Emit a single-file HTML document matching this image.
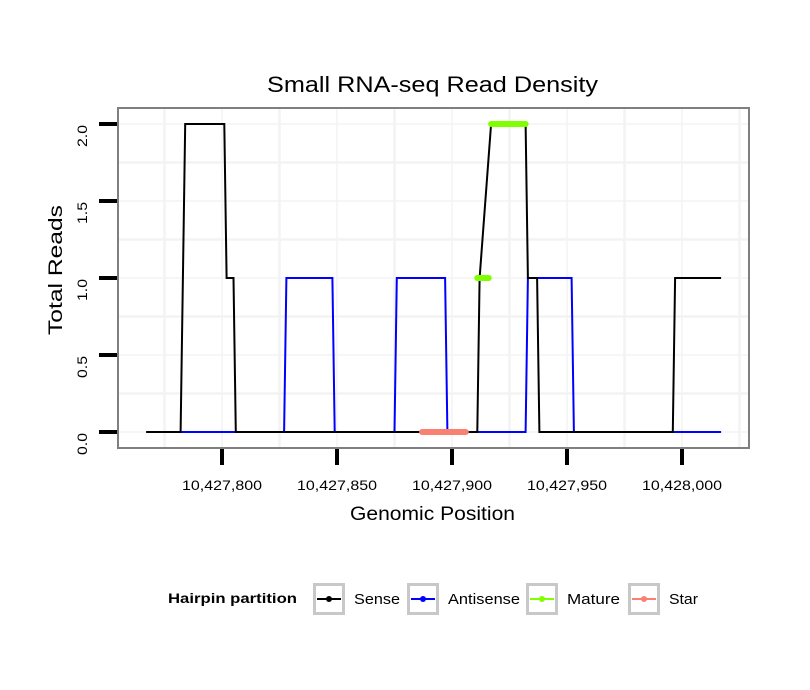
<!DOCTYPE html>
<html><head><meta charset="utf-8"><style>
body{margin:0;background:#fff;}
svg{display:block;font-family:"Liberation Sans",Arial,sans-serif;}
</style></head><body>
<svg id="chart" width="810" height="690" viewBox="0 0 810 690" xmlns="http://www.w3.org/2000/svg">
<rect width="810" height="690" fill="#fff"/>
<text x="267" y="92" font-size="22" textLength="331" lengthAdjust="spacingAndGlyphs" fill="#000">Small RNA-seq Read Density</text>
<rect x="118" y="108" width="631" height="340" fill="#fff"/>
<g id="grid"></g>
<g id="series"></g>
<rect x="118" y="108" width="631" height="340" fill="none" stroke="#7f7f7f" stroke-width="2"/>
<g id="axes"></g>
<text x="350" y="520" font-size="19" textLength="165" lengthAdjust="spacingAndGlyphs">Genomic Position</text>
<text transform="translate(62,335) rotate(-90)" font-size="19" textLength="130" lengthAdjust="spacingAndGlyphs">Total Reads</text>
<g>
<text x="168" y="603" font-size="14" font-weight="bold" textLength="129" lengthAdjust="spacingAndGlyphs">Hairpin partition</text>
<g id="legend"></g>
</g>
</svg>
<script>
const senseX=[10427767,10427782,10427784,10427801,10427802,10427805,10427806,10427911,10427912,10427917,10427932,10427933,10427937,10427938,10427996,10427997,10428017];
const senseY=[0,0,2,2,1,1,0,0,1,2,2,1,1,0,0,1,1];
const antiX=[10427782,10427827,10427828,10427848,10427849,10427875,10427876,10427897,10427898,10427932,10427933,10427952,10427953,10428017];
const antiY=[0,0,1,1,0,0,1,1,0,0,1,1,0,0];
const matureX=[[10427911,10427916],[10427917,10427932]];
const matureY=[1,2];
const starX=[[10427887,10427906]];
const starY=[0];
const xTicks=[10427800,10427850,10427900,10427950,10428000];
const xTickLabels=["10,427,800","10,427,850","10,427,900","10,427,950","10,428,000"];
const yTicks=[0,0.5,1,1.5,2];
const yTickLabels=["0.0","0.5","1.0","1.5","2.0"];
const legendLabels=["Sense","Antisense","Mature","Star"];
const legendColors=["#000000","#0000ff","#7fff00","#fa8072"];
const legendWidths=[46,72,53,29];

const NS="http://www.w3.org/2000/svg";
function sx(v){return 222+(v-10427800)*2.3;}
function sy(v){return 432-154*v;}
function mk(tag,attrs,parent){const e=document.createElementNS(NS,tag);for(const k in attrs)e.setAttribute(k,attrs[k]);parent.appendChild(e);return e;}
const grid=document.getElementById('grid'),series=document.getElementById('series'),axes=document.getElementById('axes'),legend=document.getElementById('legend');
for(let v=10427775;v<=10428025;v+=25){const x=sx(v);if(x<120||x>747)continue;
 const l=mk('line',{x1:x,x2:x,y1:109,y2:447,stroke:'#f3f3f3','stroke-width':v%50===0?1.5:2.5},grid);
 
 }
for(let v=0;v<=2.01;v+=0.25){const y=sy(v);
 const l=mk('line',{x1:119,x2:748,y1:y,y2:y,stroke:'#f3f3f3','stroke-width':(v*4)%2===0?1.5:2.5},grid);
 
 }
function pts(xs,ys){return xs.map((x,i)=>sx(x)+','+sy(ys[i])).join(' ');}
const anti=mk('polyline',{points:pts(antiX,antiY),fill:'none',stroke:'#0000ff','stroke-width':2},series);


const sense=mk('polyline',{points:pts(senseX,senseY),fill:'none',stroke:'#000','stroke-width':2},series);


matureX.forEach((r,i)=>{const l=mk('line',{x1:sx(r[0]),x2:sx(r[1]),y1:sy(matureY[i]),y2:sy(matureY[i]),stroke:'#7fff00','stroke-width':6,'stroke-linecap':'round'},series);
 
 });
starX.forEach((r,i)=>{const l=mk('line',{x1:sx(r[0]),x2:sx(r[1]),y1:sy(starY[i]),y2:sy(starY[i]),stroke:'#fa8072','stroke-width':6,'stroke-linecap':'round'},series);
 
 });
xTicks.forEach((v,i)=>{const x=sx(v);
 const t=mk('line',{x1:x,x2:x,y1:449,y2:465,stroke:'#000','stroke-width':4},axes);
 
 
 const tx=mk('text',{x:x-40,y:490,'font-size':14,textLength:80,lengthAdjust:'spacingAndGlyphs'},axes);tx.textContent=xTickLabels[i];
 
 });
yTicks.forEach((v,i)=>{const y=sy(v);
 const t=mk('line',{x1:99,x2:117,y1:y,y2:y,stroke:'#000','stroke-width':4},axes);
 
 
 const tx=mk('text',{transform:`translate(87,${y+23}) rotate(-90)`,'font-size':14,textLength:22,lengthAdjust:'spacingAndGlyphs'},axes);tx.textContent=yTickLabels[i];
 
 });
const boxX=[313,407,526,628];
legendLabels.forEach((lab,i)=>{const bx=boxX[i];
 const g=mk('g',{},legend);
 
 
 mk('rect',{x:bx+1.5,y:584.5,width:29,height:29,fill:'#fff',stroke:'#c8c8c8','stroke-width':3},g);
 mk('line',{x1:bx+4,x2:bx+28,y1:599,y2:599,stroke:legendColors[i],'stroke-width':2},g);
 mk('circle',{cx:bx+16,cy:599,r:3,fill:legendColors[i]},g);
 const t=mk('text',{x:bx+41,y:604,'font-size':15,textLength:legendWidths[i],lengthAdjust:'spacingAndGlyphs'},g);t.textContent=lab;});
</script>
</body></html>
